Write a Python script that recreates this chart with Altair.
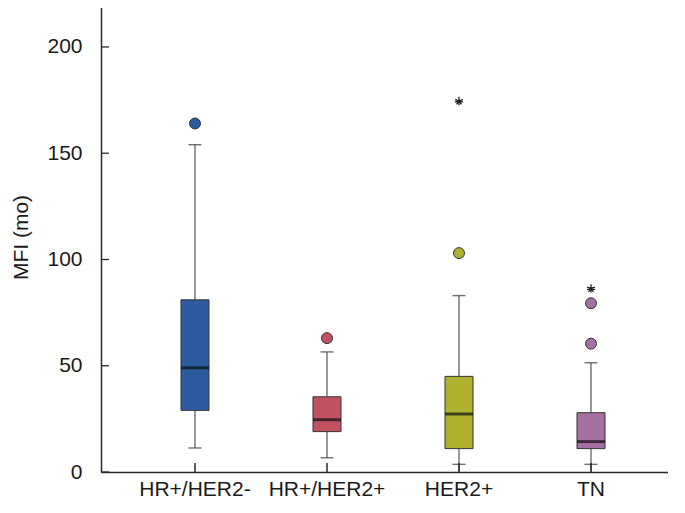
import altair as alt
import pandas as pd

# ---- data ----
categories = ["HR+/HER2-", "HR+/HER2+", "HER2+", "TN"]
colors = ["#2E5AA0", "#C25262", "#AEB22F", "#A670A2"]
q1 = [29.0, 19.0, 11.0, 11.0]
median = [49.0, 24.6, 27.3, 14.3]
q3 = [81.0, 35.4, 45.0, 27.9]
whisker_hi = [154.0, 56.5, 83.0, 51.4]
cap_lo = [11.3, 6.7, 3.6, 3.6]
line_lo = [11.3, 6.7, 0.0, 0.0]
outlier_cat = ["HR+/HER2-", "HR+/HER2+", "HER2+", "TN", "TN"]
outlier_val = [164.0, 63.0, 103.0, 79.4, 60.4]
star_cat = ["HER2+", "TN"]
star_val = [174.6, 86.4]
y_ticks = [0, 50, 100, 150, 200]

boxes = pd.DataFrame({"cat": categories, "q1": q1, "median": median, "q3": q3,
                      "hi": whisker_hi, "caplo": cap_lo, "linelo": line_lo})
outs = pd.DataFrame({"cat": outlier_cat, "v": outlier_val})
stars = pd.DataFrame({"cat": star_cat, "v": star_val})
ticks = pd.DataFrame({"t": y_ticks})

FONT = "Liberation Sans"
H = 472

x = alt.X("cat:N", sort=categories, title=None,
          scale=alt.Scale(type="band", paddingInner=0, paddingOuter=0.212, range=[0, 584]),
          axis=alt.Axis(labelAngle=0, labelFontSize=21, labelFont=FONT, labelColor="#1a1a1a",
                        ticks=False, labelPadding=6, domainColor="#2a2a2a", domainWidth=1.5))
yscale = alt.Scale(domain=[0, 222.1], nice=False, zero=True)
y_axis = alt.Axis(values=y_ticks, ticks=False, labelPadding=19, labelFontSize=21, labelFont=FONT,
                  labelColor="#1a1a1a", domainColor="#2a2a2a", domainWidth=1.5,
                  title="MFI (mo)", titleFontSize=21, titleFont=FONT, titleFontWeight="normal",
                  titleColor="#1a1a1a", titleAngle=-90, titleX=-80, titleY=237,
                  titleAlign="center", titleBaseline="middle", grid=False)
color = alt.Color("cat:N", scale=alt.Scale(domain=categories, range=colors), legend=None)

base = alt.Chart(boxes)

whisk_up = base.mark_rule(color="#555555", strokeWidth=1.2).encode(
    x=x, y=alt.Y("q3:Q", scale=yscale, axis=y_axis), y2="hi:Q")
whisk_lo = base.mark_rule(color="#555555", strokeWidth=1.2).encode(
    x=x, y=alt.Y("q1:Q", scale=yscale), y2="linelo:Q")
cap_hi = base.mark_tick(color="#333333", thickness=1.4, size=13).encode(
    x=x, y=alt.Y("hi:Q", scale=yscale))
cap_low = base.mark_tick(color="#333333", thickness=1.4, size=13).encode(
    x=x, y=alt.Y("caplo:Q", scale=yscale))
box = base.mark_bar(size=28, stroke="#333333", strokeWidth=1).encode(
    x=x, y=alt.Y("q1:Q", scale=yscale), y2="q3:Q", color=color)
med = base.mark_tick(color="#111111", thickness=3, size=28).encode(
    x=x, y=alt.Y("median:Q", scale=yscale))
pts = alt.Chart(outs).mark_point(filled=True, size=120, stroke="#333333", strokeWidth=1,
                                 opacity=1).encode(
    x=x, y=alt.Y("v:Q", scale=yscale),
    fill=alt.Fill("cat:N", scale=alt.Scale(domain=categories, range=colors), legend=None))
star = alt.Chart(stars).mark_point(
    shape="M0,-1L0,1M-0.95,-0.31L0.95,0.31M-0.95,0.31L0.95,-0.31M-0.59,0.81L0,0M0.59,0.81L0,0",
    filled=False, size=70, stroke="#222222", strokeWidth=1.3, opacity=1).encode(
    x=x, y=alt.Y("v:Q", scale=yscale))
ytick_marks = alt.Chart(ticks).mark_rule(color="#2a2a2a", strokeWidth=1.3).encode(
    x=alt.value(0), x2=alt.value(8), y=alt.Y("t:Q", scale=yscale))
xtick_marks = alt.Chart(boxes).mark_rule(color="#2a2a2a", strokeWidth=1.5).encode(
    x=x, y=alt.value(H), y2=alt.value(H - 9))

chart = alt.layer(whisk_up, whisk_lo, cap_hi, cap_low, box, med, pts, star,
                  ytick_marks, xtick_marks).properties(
    width=567, height=H,
    padding={"left": 93, "top": -8, "right": 0, "bottom": 28},
    autosize=alt.AutoSizeParams(type="none"),
    background="white",
).configure_view(stroke=None)

chart.save("out.html", embed_options={"renderer": "svg", "actions": False})
